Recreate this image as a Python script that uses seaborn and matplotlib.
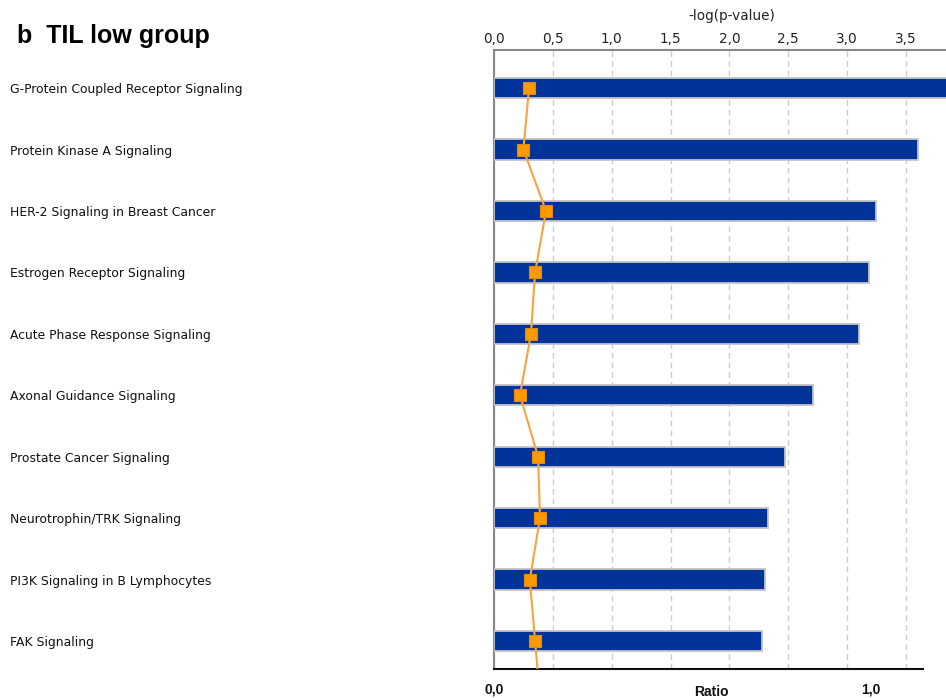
import matplotlib
matplotlib.use("Agg")
import matplotlib.pyplot as plt
import seaborn as sns
import pandas as pd

pathways = [
    "G-Protein Coupled Receptor Signaling",
    "Protein Kinase A Signaling",
    "HER-2 Signaling in Breast Cancer",
    "Estrogen Receptor Signaling",
    "Acute Phase Response Signaling",
    "Axonal Guidance Signaling",
    "Prostate Cancer Signaling",
    "Neurotrophin/TRK Signaling",
    "PI3K Signaling in B Lymphocytes",
    "FAK Signaling",
]
neg_log_p = [3.90, 3.60, 3.245, 3.185, 3.10, 2.71, 2.47, 2.33, 2.30, 2.28]
ratio = [0.093, 0.078, 0.138, 0.109, 0.098, 0.069, 0.117, 0.122, 0.095, 0.109]

top_ticks = [0.0, 0.5, 1.0, 1.5, 2.0, 2.5, 3.0, 3.5]
top_tick_labels = ["0,0", "0,5", "1,0", "1,5", "2,0", "2,5", "3,0", "3,5"]
ratio_ticks = [0.0, 1.0]
ratio_tick_labels = ["0,0", "1,0"]

df = pd.DataFrame({"pathway": pathways, "neg_log_p": neg_log_p, "ratio": ratio})

sns.set_style("white")
plt.rcParams["font.family"] = ["DejaVu Sans"]

W, H = 946, 698
fig = plt.figure(figsize=(W / 100, H / 100), dpi=100)
ax = fig.add_axes([494 / W, 1 - 669 / H, 1 - 494 / W, (669 - 50) / H])
ax2 = ax.twiny()

# -log(p-value) bars
sns.barplot(data=df, x="neg_log_p", y="pathway", orient="h", color="#003399",
            saturation=1, width=0.33, edgecolor="#c4c4c4", linewidth=1.3, ax=ax,
            zorder=3)
ax.set_xlim(0, 3.84)
ax.set_ylim(9.455, -0.62)
ax.xaxis.tick_top()
ax.xaxis.set_label_position("top")
ax.set_xticks(top_ticks)
ax.set_xticklabels(top_tick_labels, fontsize=9.8, color="#222222")
ax.tick_params(axis="x", length=0, pad=3, labelbottom=False, labeltop=True)
ax.set_xlabel("-log(p-value)", fontsize=9.8, color="#222222")
ax.xaxis.label.set_va("center")
ax.xaxis.set_label_coords((732 - 494) / (W - 494), (669 - 16) / (669 - 50))
ax.set_ylabel("")
ax.set_yticks(range(len(pathways)))
ax.set_yticklabels(pathways, fontsize=8.9, color="#111111", ha="left")
ax.tick_params(axis="y", length=0, pad=(494 - 10) * 0.72)
ax.grid(axis="x", color="#cccccc", linestyle=(0, (4, 3)), linewidth=1, zorder=0)
ax.grid(axis="y", visible=False)
for s in ["right", "bottom"]:
    ax.spines[s].set_visible(False)
ax.spines["top"].set_color("#888888")
ax.spines["top"].set_linewidth(1.5)
ax.spines["left"].set_color("#888888")
ax.spines["left"].set_linewidth(1.5)

# Ratio line on a secondary bottom axis
ax2.set_xlim(0, (W - 494) / 377)
line_y = list(range(len(ratio))) + [len(ratio)]
line_x = ratio + [ratio[-1] + (ratio[-1] - ratio[-2])]
ax2.plot(line_x, line_y, color="#f7a440", linewidth=1.5, zorder=4)
sns.scatterplot(x=ratio, y=list(range(len(ratio))), marker="s", s=80,
                color="#ff9900", edgecolor="#e08a10", linewidth=0.8, ax=ax2,
                zorder=5)
ax2.set_ylim(9.455, -0.62)
ax2.xaxis.tick_bottom()
ax2.xaxis.set_label_position("bottom")
ax2.set_xticks(ratio_ticks)
ax2.set_xticklabels(ratio_tick_labels, fontsize=10, fontweight="bold",
                    family="Liberation Sans", color="#111111")
ax2.tick_params(axis="x", length=0, pad=10, labeltop=False, labelbottom=True)
ax2.tick_params(axis="y", left=False, labelleft=False, right=False,
                labelright=False)
ax2.set_xlabel("Ratio", fontsize=10, fontweight="bold", family="Liberation Sans",
               color="#111111")
ax2.xaxis.set_label_coords((711 - 494) / (W - 494), -(692 - 669) / (669 - 50))
ax2.xaxis.label.set_va("center")
ax2.set_ylabel("")
for s in ["top", "right", "left"]:
    ax2.spines[s].set_visible(False)
ax2.spines["bottom"].set_color("#111111")
ax2.spines["bottom"].set_linewidth(1.5)
ax2.spines["bottom"].set_bounds(0, (923 - 494) / 377)

fig.text(17 / W, 1 - 43 / H, "b  TIL low group", fontsize=18, fontweight="bold",
         family="Liberation Sans", va="baseline", ha="left", color="black")

fig.savefig("out.png", dpi=100)
